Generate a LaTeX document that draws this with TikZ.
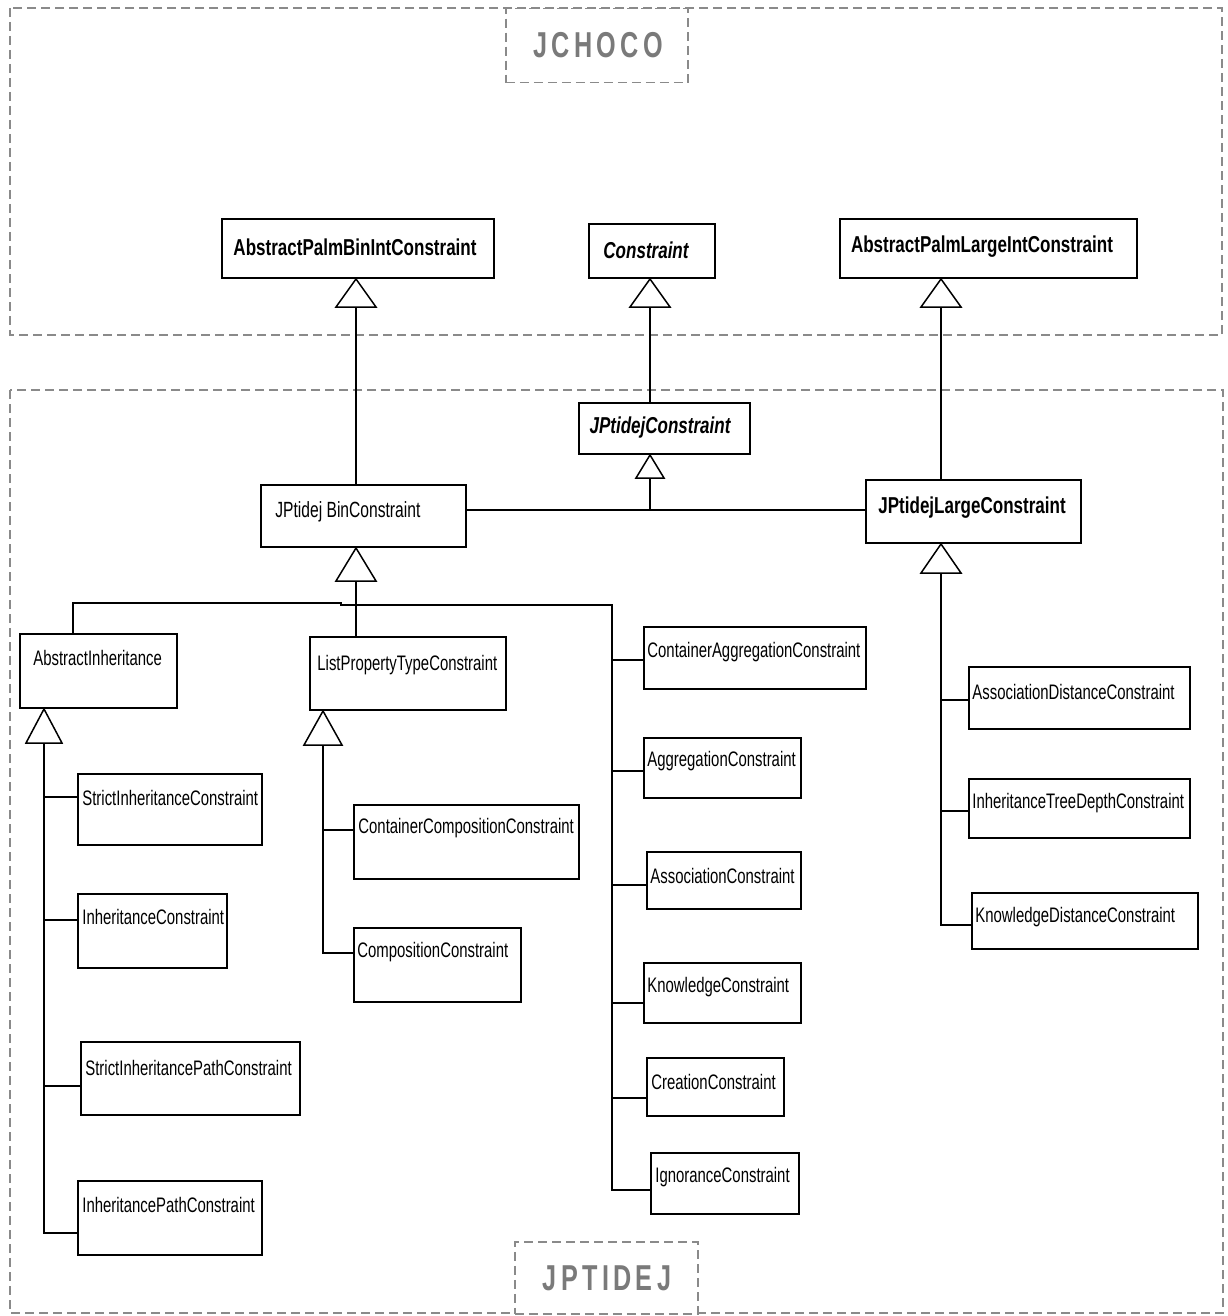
\documentclass[tikz,border=0pt]{standalone}
\usepackage{fontspec}
\newfontfamily\umlfont[FakeStretch=0.71]{Liberation Sans}
\newfontfamily\umlbold[FakeStretch=0.74]{Liberation Sans}
\newfontfamily\pkgfont[FakeStretch=0.7,LetterSpace=12]{Liberation Sans}
\definecolor{pkggray}{HTML}{7A7A7A}
\definecolor{dashgray}{HTML}{8A8A8A}
\newcommand\umlbox[5]{%
  \pgfmathsetmacro\umlbw{(#4-#2)*0.5}%
  \pgfmathsetmacro\umlbh{(#5-#3)*0.5}%
  \node[box, minimum width=\umlbw pt, minimum height=\umlbh pt] (#1) at (#2,#3) {};}
\begin{document}
\begin{tikzpicture}[x=0.5pt,y=-0.5pt,
  box/.style={draw, line width=1pt, fill=white, inner sep=0pt, anchor=north west},
  lbl/.style={inner sep=0pt, anchor=west, font=\umlfont\fontsize{10.5}{12}\selectfont},
  blbl/.style={inner sep=0pt, font=\umlbold\bfseries\fontsize{11.5}{13}\selectfont},
  bilbl/.style={inner sep=0pt, font=\umlbold\bfseries\itshape\fontsize{11.5}{13}\selectfont},
  conn/.style={line width=0.75pt},
  tri/.style={draw, line width=0.75pt, fill=white},
  pkgline/.style={draw=dashgray, line width=0.75pt, dash pattern=on 4.5pt off 2.5pt},
  pkgbox/.style={pkgline, fill=white, inner sep=0pt, anchor=north west},
  pkgtext/.style={inner sep=0pt, text=pkggray, font=\pkgfont\bfseries\fontsize{18}{20}\selectfont}]
\useasboundingbox (0,0) rectangle (1227,1316);
% package frames
\draw[pkgline] (10,8) rectangle (1222,335);
\draw[pkgline] (10,390) rectangle (1223,1313);
\node[pkgbox, minimum width=91pt, minimum height=37pt] (jchoco) at (505,8) {};
\node[pkgtext] (jchoco-t) at (598,45) {JCHOCO};
\node[pkgbox, minimum width=91.5pt, minimum height=36pt] (jptidej) at (514,1241) {};
\node[pkgtext] (jptidej-t) at (607,1278) {JPTIDEJ};
% boxes
\umlbox{apbic}{221}{218}{493}{277}
\umlbox{con}{588}{223}{714}{277}
\umlbox{aplic}{839}{218}{1136}{277}
\umlbox{jpc}{578}{402}{749}{453}
\umlbox{jbin}{260}{484}{465}{546}
\umlbox{jlarge}{865}{479}{1080}{542}
\umlbox{ai}{19}{633}{176}{707}
\umlbox{lpt}{309}{636}{505}{709}
\umlbox{cagg}{643}{626}{865}{688}
\umlbox{adc}{968}{666}{1189}{728}
\umlbox{sic}{77}{773}{261}{844}
\umlbox{ic}{77}{893}{226}{967}
\umlbox{ccc}{353}{804}{578}{878}
\umlbox{cc}{353}{927}{520}{1001}
\umlbox{agg}{643}{737}{800}{797}
\umlbox{asc}{646}{851}{800}{908}
\umlbox{kc}{643}{962}{800}{1022}
\umlbox{crc}{646}{1057}{783}{1115}
\umlbox{igc}{650}{1152}{798}{1213}
\umlbox{itdc}{968}{778}{1189}{837}
\umlbox{kdc}{971}{892}{1197}{948}
\umlbox{sipc}{80}{1041}{299}{1114}
\umlbox{ipc}{77}{1180}{261}{1254}
% labels
\node[blbl] (apbic-t) at (355,247) {AbstractPalmBinIntConstraint};
\node[bilbl] (con-t) at (646,250) {Constraint};
\node[blbl] (aplic-t) at (982,247) {AbstractPalmLargeIntConstraint};
\node[bilbl] (jpc-t) at (660,428) {JPtidejConstraint};
\node[lbl, font=\umlfont\fontsize{11}{13}\selectfont] (jbin-t) at (275,512) {JPtidej BinConstraint};
\node[blbl, anchor=west] (jlarge-t) at (878,508) {JPtidejLargeConstraint};
\node[lbl] (ai-t) at (33,658) {AbstractInheritance};
\node[lbl] (lpt-t) at (317,665) {ListPropertyTypeConstraint};
\node[lbl] (cagg-t) at (647,652) {ContainerAggregationConstraint};
\node[lbl] (adc-t) at (972,692) {AssociationDistanceConstraint};
\node[lbl] (sic-t) at (82,798) {StrictInheritanceConstraint};
\node[lbl] (ic-t) at (82,917) {InheritanceConstraint};
\node[lbl] (ccc-t) at (358,828) {ContainerCompositionConstraint};
\node[lbl] (cc-t) at (357,952) {CompositionConstraint};
\node[lbl] (agg-t) at (647,761) {AggregationConstraint};
\node[lbl] (asc-t) at (650,876) {AssociationConstraint};
\node[lbl] (kc-t) at (647,987) {KnowledgeConstraint};
\node[lbl] (crc-t) at (651,1082) {CreationConstraint};
\node[lbl] (igc-t) at (655,1177) {IgnoranceConstraint};
\node[lbl] (itdc-t) at (972,803) {InheritanceTreeDepthConstraint};
\node[lbl] (kdc-t) at (975,917) {KnowledgeDistanceConstraint};
\node[lbl] (sipc-t) at (85,1068) {StrictInheritancePathConstraint};
\node[lbl] (ipc-t) at (82,1205) {InheritancePathConstraint};
% generalisation triangles and connectors
\draw[tri] (356,0 |- apbic.south) coordinate (a1) -- ++(20,28) -- ++(-20,0) coordinate (b1) -- ++(-20,0) -- cycle;
\draw[conn] (b1) -- (b1 |- jbin.north);
\draw[tri] (650,0 |- con.south) coordinate (a2) -- ++(20,28) -- ++(-20,0) coordinate (b2) -- ++(-20,0) -- cycle;
\draw[conn] (b2) -- (b2 |- jpc.north);
\draw[tri] (941,0 |- aplic.south) coordinate (a3) -- ++(20,28) -- ++(-20,0) coordinate (b3) -- ++(-20,0) -- cycle;
\draw[conn] (b3) -- (b3 |- jlarge.north);
\draw[tri] (650,0 |- jpc.south) coordinate (a4) -- ++(14,23) -- ++(-14,0) coordinate (b4) -- ++(-14,0) -- cycle;
\draw[conn] (b4) -- (650,510);
\draw[conn] (jbin.east |- 0,510) -- (jlarge.west |- 0,510);
% JPtidejBinConstraint subclasses
\draw[tri] (356,0 |- jbin.south) coordinate (a5) -- ++(20,33) -- ++(-20,0) coordinate (b5) -- ++(-20,0) -- cycle;
\draw[conn] (b5) -- (b5 |- lpt.north);
\draw[conn] (73,0 |- ai.north) -- (73,603) -- (341,603) -- (341,605) -- (612,605) -- (612,1190) -- (igc.west |- 0,1190);
\draw[conn] (612,660) -- (cagg.west |- 0,660);
\draw[conn] (612,771) -- (agg.west |- 0,771);
\draw[conn] (612,885) -- (asc.west |- 0,885);
\draw[conn] (612,1003) -- (kc.west |- 0,1003);
\draw[conn] (612,1098) -- (crc.west |- 0,1098);
% AbstractInheritance subclasses
\draw[tri] (44,0 |- ai.south) coordinate (a6) -- ++(18,34) -- ++(-18,0) coordinate (b6) -- ++(-18,0) -- cycle;
\draw[conn] (b6) -- (44,1233) -- (ipc.west |- 0,1233);
\draw[conn] (44,797) -- (sic.west |- 0,797);
\draw[conn] (44,920) -- (ic.west |- 0,920);
\draw[conn] (44,1086) -- (sipc.west |- 0,1086);
% ListPropertyTypeConstraint subclasses
\draw[tri] (323,0 |- lpt.south) coordinate (a7) -- ++(19,34) -- ++(-19,0) coordinate (b7) -- ++(-19,0) -- cycle;
\draw[conn] (b7) -- (323,953) -- (cc.west |- 0,953);
\draw[conn] (323,830) -- (ccc.west |- 0,830);
% JPtidejLargeConstraint subclasses
\draw[tri] (941,0 |- jlarge.south) coordinate (a8) -- ++(20,29) -- ++(-20,0) coordinate (b8) -- ++(-20,0) -- cycle;
\draw[conn] (b8) -- (941,925) -- (kdc.west |- 0,925);
\draw[conn] (941,700) -- (adc.west |- 0,700);
\draw[conn] (941,811) -- (itdc.west |- 0,811);
\end{tikzpicture}
\end{document}
